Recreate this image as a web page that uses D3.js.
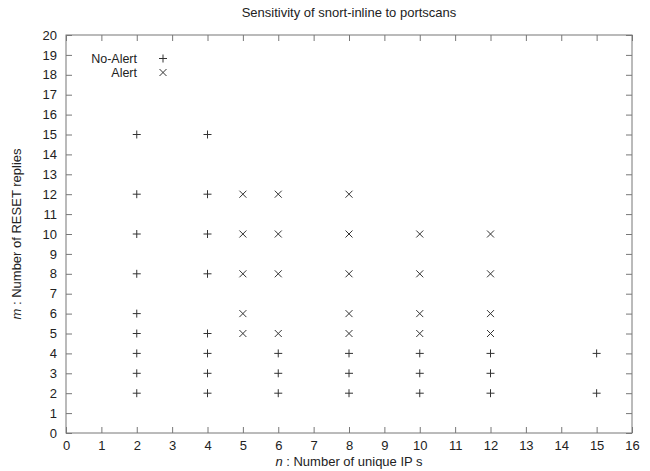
<!DOCTYPE html>
<html>
<head>
<meta charset="utf-8">
<script src="https://cdn.jsdelivr.net/npm/d3@7"></script>
<style>
  body { margin: 0; background: #fff; }
  svg { display: block; font-family: "Liberation Sans", Arial, sans-serif; }
  .axis path { display: none; }
  .axis line { stroke: #777; }
  .axis text { fill: #222; font-size: 13px; }
  .mark { stroke: #333; stroke-width: 1; fill: none; }
</style>
</head>
<body>
<svg width="650" height="471"></svg>
<script>
// n (unique IPs) and m (RESET replies) per observation
const noAlertN = [2, 2, 2, 2, 2, 2, 2, 2, 2,
                  4, 4, 4, 4, 4, 4, 4, 4,
                  6, 6, 6, 8, 8, 8, 10, 10, 10, 12, 12, 12, 15, 15];
const noAlertM = [2, 3, 4, 5, 6, 8, 10, 12, 15,
                  2, 3, 4, 5, 8, 10, 12, 15,
                  2, 3, 4, 2, 3, 4, 2, 3, 4, 2, 3, 4, 2, 4];

const alertN = [5, 5, 5, 5, 5, 6, 6, 6, 6, 8, 8, 8, 8, 8, 10, 10, 10, 10, 12, 12, 12, 12];
const alertM = [5, 6, 8, 10, 12, 5, 8, 10, 12, 5, 6, 8, 10, 12, 5, 6, 8, 10, 5, 6, 8, 10];

const xTicks = d3.range(0, 17);
const yTicks = d3.range(0, 21);

const margin = {top: 35, right: 18, bottom: 38, left: 66};
const width = 650 - margin.left - margin.right;
const height = 471 - margin.top - margin.bottom;

const svg = d3.select('svg');
const g = svg.append('g')
  .attr('transform', 'translate(' + margin.left + ',' + margin.top + ')');

const x = d3.scaleLinear().domain([0, 16]).range([0, width]);
const y = d3.scaleLinear().domain([0, 20]).range([height, 0]);

// frame
g.append('rect')
  .attr('width', width)
  .attr('height', height)
  .attr('fill', 'none')
  .attr('stroke', '#777');

g.append('g')
  .attr('class', 'axis')
  .attr('transform', 'translate(0,' + height + ')')
  .call(d3.axisBottom(x).tickValues(xTicks).tickSize(-6).tickPadding(8).tickFormat(d3.format('d')));

g.append('g')
  .attr('class', 'axis')
  .call(d3.axisLeft(y).tickValues(yTicks).tickSize(-6).tickPadding(9).tickFormat(d3.format('d')));

g.append('g')
  .attr('class', 'axis')
  .call(d3.axisTop(x).tickValues(xTicks).tickSize(-6).tickFormat(''));

g.append('g')
  .attr('class', 'axis')
  .attr('transform', 'translate(' + width + ',0)')
  .call(d3.axisRight(y).tickValues(yTicks).tickSize(-6).tickFormat(''));

const plusPath = s => 'M' + (-s) + ',0H' + s + 'M0,' + (-s) + 'V' + s;
const crossPath = s => 'M' + (-s) + ',' + (-s) + 'L' + s + ',' + s + 'M' + (-s) + ',' + s + 'L' + s + ',' + (-s);

g.selectAll('.no-alert')
  .data(d3.zip(noAlertN, noAlertM))
  .enter().append('path')
  .attr('class', 'mark no-alert')
  .attr('transform', d => 'translate(' + x(d[0]) + ',' + y(d[1]) + ')')
  .attr('d', plusPath(4));

g.selectAll('.alert')
  .data(d3.zip(alertN, alertM))
  .enter().append('path')
  .attr('class', 'mark alert')
  .attr('transform', d => 'translate(' + x(d[0]) + ',' + y(d[1]) + ')')
  .attr('d', crossPath(3.5));

// legend
const legend = [{label: 'No-Alert', d: plusPath(4)}, {label: 'Alert', d: crossPath(3.5)}];
const lg = g.selectAll('.legend')
  .data(legend)
  .enter().append('g')
  .attr('transform', (d, i) => 'translate(0,' + (23.5 + i * 14) + ')');
lg.append('text')
  .attr('x', 71)
  .attr('dy', '0.35em')
  .attr('text-anchor', 'end')
  .attr('font-size', 12.5)
  .attr('fill', '#222')
  .text(d => d.label);
lg.append('path')
  .attr('class', 'mark')
  .attr('transform', 'translate(97,0)')
  .attr('d', d => d.d);

// title and axis labels
svg.append('text')
  .attr('x', margin.left + width / 2)
  .attr('y', 17)
  .attr('text-anchor', 'middle')
  .attr('font-size', 13)
  .attr('fill', '#222')
  .text('Sensitivity of snort-inline to portscans');

const xl = svg.append('text')
  .attr('x', margin.left + width / 2)
  .attr('y', 466)
  .attr('text-anchor', 'middle')
  .attr('font-size', 13)
  .attr('fill', '#222');
xl.append('tspan').attr('font-style', 'italic').text('n');
xl.append('tspan').text(' : Number of unique IP s');

const yl = svg.append('text')
  .attr('transform', 'translate(21,' + (margin.top + height / 2) + ') rotate(-90)')
  .attr('text-anchor', 'middle')
  .attr('font-size', 13)
  .attr('fill', '#222');
yl.append('tspan').attr('font-style', 'italic').text('m');
yl.append('tspan').text(' : Number of RESET replies');
</script>
</body>
</html>
